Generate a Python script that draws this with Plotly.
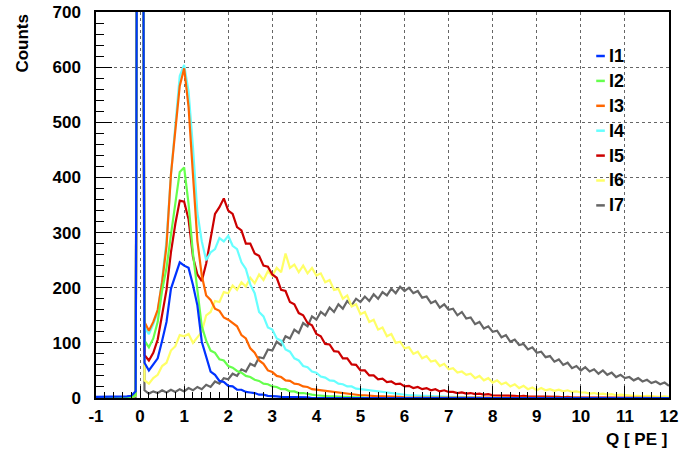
import plotly.graph_objects as go

# ---- data: histogram bins (centres from -1.0 to 12.0, width 0.1) ----
BIN_START = -1.0
BIN_WIDTH = 0.1
N_BINS = 131
bin_centers = [round(BIN_START + BIN_WIDTH * i, 2) for i in range(N_BINS)]

series_names = ["I1", "I2", "I3", "I4", "I5", "I6", "I7"]
series_colors = ["#0033ff", "#66ff4d", "#ff6600", "#66ffff", "#cc0000", "#ffff66", "#666666"]

I1 = ([2, 2, 3, 2, 2, 3, 2, 3, 4, 12] + [3000] +
      [64, 50, 60, 72, 104, 138, 198, 222, 246, 240] +
      [236, 205, 168, 102, 75, 48, 42, 31, 29, 22] +
      [21, 15, 15, 11, 10, 9, 6, 6, 4, 4] +
      [3, 2, 2, 2, 1, 1, 1, 1, 0, 0] +
      [0] * 80)

I2 = ([0, 0, 0, 0, 0, 0, 0, 0, 1, 5] + [3000] +
      [104, 92, 108, 138, 195, 236, 296, 352, 410, 418] +
      [352, 262, 200, 130, 104, 86, 82, 70, 68, 58] +
      [55, 49, 46, 40, 38, 33, 31, 26, 25, 21] +
      [20, 16, 16, 12, 12, 9, 9, 7, 6, 5] +
      [4, 4, 3, 3, 2, 2, 2, 1, 1, 1] +
      [0] * 70)

I3 = ([0, 0, 0, 0, 0, 0, 0, 0, 1, 6] + [3000] +
      [138, 122, 138, 160, 210, 276, 405, 486, 566, 598] +
      [528, 405, 285, 222, 186, 178, 162, 158, 146, 142] +
      [136, 130, 114, 108, 90, 82, 68, 62, 50, 47] +
      [40, 38, 32, 31, 26, 25, 21, 20, 16, 15] +
      [14, 12, 11, 10, 9, 8, 7, 7, 6, 5] +
      [5, 4, 4, 3, 3, 3, 2, 2, 2, 1] +
      [1, 1, 1, 1, 0, 0, 0, 0, 0, 0] +
      [0] * 50)

I4 = ([0, 0, 0, 0, 0, 0, 0, 0, 1, 6] + [3000] +
      [128, 116, 134, 156, 214, 286, 404, 496, 584, 604] +
      [556, 454, 336, 284, 250, 264, 270, 290, 284, 294] +
      [276, 270, 246, 234, 206, 190, 156, 148, 128, 124] +
      [108, 104, 88, 84, 72, 68, 58, 56, 48, 46] +
      [39, 37, 32, 31, 26, 25, 21, 21, 17, 16] +
      [15, 13, 13, 11, 11, 9, 9, 7, 7, 6] +
      [5, 5, 4, 4, 4, 3, 3, 3, 2, 2] +
      [2, 2, 1, 1, 1, 1, 1, 0, 0, 0] +
      [0] * 40)

I5 = ([0, 0, 0, 0, 0, 0, 0, 0, 2, 8] + [3000] +
      [78, 68, 82, 106, 154, 196, 264, 316, 358, 356] +
      [324, 256, 224, 212, 244, 286, 334, 346, 362, 340] +
      [334, 310, 304, 280, 280, 262, 258, 240, 238, 224] +
      [218, 196, 194, 174, 170, 154, 150, 136, 132, 116] +
      [112, 98, 97, 85, 84, 72, 72, 61, 60, 50] +
      [50, 41, 41, 34, 35, 29, 30, 25, 26, 21] +
      [22, 18, 20, 16, 18, 14, 16, 12, 14, 11] +
      [11, 9, 10, 8, 9, 7, 8, 6, 7, 5] +
      [5, 4, 5, 4, 4, 3, 4, 3, 3, 2] +
      [3, 2, 2, 2, 2, 1, 2, 1, 1, 1] +
      [1, 1, 1, 0, 1, 0, 0, 1, 0, 0] +
      [0] * 10)

I6 = ([0, 0, 0, 0, 0, 0, 0, 0, 1, 4] + [3000] +
      [32, 26, 36, 42, 58, 64, 86, 94, 114, 112] +
      [116, 100, 110, 120, 150, 156, 176, 174, 192, 190] +
      [204, 196, 210, 202, 218, 208, 224, 214, 230, 222] +
      [236, 228, 262, 236, 242, 228, 240, 226, 236, 222] +
      [226, 210, 214, 196, 198, 180, 186, 166, 170, 152] +
      [156, 138, 142, 124, 128, 112, 116, 100, 102, 90] +
      [92, 80, 84, 72, 76, 66, 68, 58, 62, 52] +
      [54, 46, 48, 42, 44, 36, 40, 32, 36, 28] +
      [32, 25, 28, 21, 25, 18, 22, 16, 19, 14] +
      [18, 14, 16, 13, 15, 12, 14, 11, 12, 10] +
      [10, 8, 9, 7, 8, 6, 7, 5, 6, 5] +
      [5, 4, 4, 3, 4, 3, 3, 2, 3, 2])

I7 = ([0, 0, 0, 0, 0, 0, 0, 0, 0, 2] + [3000] +
      [14, 8, 12, 9, 14, 10, 15, 11, 16, 12] +
      [18, 14, 20, 16, 24, 20, 30, 26, 36, 34] +
      [44, 40, 52, 48, 62, 58, 74, 72, 88, 86] +
      [102, 96, 112, 108, 124, 118, 136, 130, 148, 142] +
      [156, 150, 164, 156, 170, 162, 176, 168, 180, 174] +
      [184, 176, 188, 180, 192, 186, 198, 190, 202, 194] +
      [200, 190, 194, 182, 184, 172, 176, 164, 170, 160] +
      [162, 150, 156, 144, 146, 134, 138, 126, 130, 120] +
      [122, 110, 114, 102, 106, 96, 98, 88, 92, 82] +
      [84, 74, 76, 66, 70, 60, 64, 54, 58, 50] +
      [56, 48, 52, 44, 50, 42, 46, 38, 42, 36] +
      [38, 32, 36, 30, 33, 27, 30, 25, 28, 22])

series_values = [I1, I2, I3, I4, I5, I6, I7]

x_ticks = list(range(-1, 13))
x_ticktext = [str(v) for v in x_ticks]
y_ticks = list(range(0, 701, 100))

FONT = "Liberation Sans, Arial, sans-serif"

fig = go.Figure()
# draw last series first so I1 ends on top
for name, color, vals in reversed(list(zip(series_names, series_colors, series_values))):
    fig.add_trace(go.Scatter(
        x=bin_centers, y=vals, mode="lines", name=name,
        line=dict(color=color, width=2.2),
        showlegend=False, hoverinfo="skip",
    ))

# custom ROOT-style legend (short line + label)
L_X0, L_X1, L_TX = 0.873, 0.888, 0.892
L_TOP, L_STEP = 0.886, 0.0645
for k, (name, color) in enumerate(zip(series_names, series_colors)):
    yy = L_TOP - k * L_STEP
    fig.add_shape(type="line", xref="paper", yref="paper",
                  x0=L_X0, x1=L_X1, y0=yy, y1=yy,
                  line=dict(color=color, width=2.5))
    fig.add_annotation(xref="paper", yref="paper", x=L_TX, y=yy,
                       text=name, showarrow=False, xanchor="left", yanchor="middle",
                       font=dict(family=FONT, size=18, color="black", weight="bold"))

axis_common = dict(
    showline=True, linecolor="black", linewidth=1.5, mirror=True,
    ticks="inside", tickcolor="black", tickwidth=1,
    showgrid=True, gridcolor="#666666", griddash="dot", gridwidth=1,
    zeroline=False, automargin=False,
    tickfont=dict(family=FONT, size=17, color="black", weight="bold"),
)

fig.update_xaxes(range=[-1, 12], tickvals=x_ticks, ticktext=x_ticktext, ticklen=12,
                 minor=dict(ticks="inside", dtick=0.2, ticklen=6, tickcolor="black", showgrid=False),
                 ticklabelstandoff=2, **axis_common)
fig.update_yaxes(range=[0, 700], tickvals=y_ticks, ticklen=16,
                 minor=dict(ticks="inside", dtick=20, ticklen=8, tickcolor="black", showgrid=False),
                 ticklabelstandoff=10, **axis_common)

fig.add_annotation(xref="paper", yref="paper", x=1.0, y=-0.078, text="Q [ PE ]",
                   showarrow=False, xanchor="right", yanchor="top",
                   font=dict(family=FONT, size=17, color="black", weight="bold"))
fig.add_annotation(xref="paper", yref="paper", x=-0.129, y=1.0, text="Counts",
                   showarrow=False, textangle=-90, xanchor="center", yanchor="top",
                   font=dict(family=FONT, size=17, color="black", weight="bold"))

fig.update_layout(
    width=681, height=450,
    margin=dict(l=96, r=12, t=12, b=52, autoexpand=False),
    paper_bgcolor="white", plot_bgcolor="white",
    showlegend=False,
)

fig.write_html("out.html", config={"displayModeBar": False},
               post_script="document.body.style.margin='0';document.body.style.padding='0';")
